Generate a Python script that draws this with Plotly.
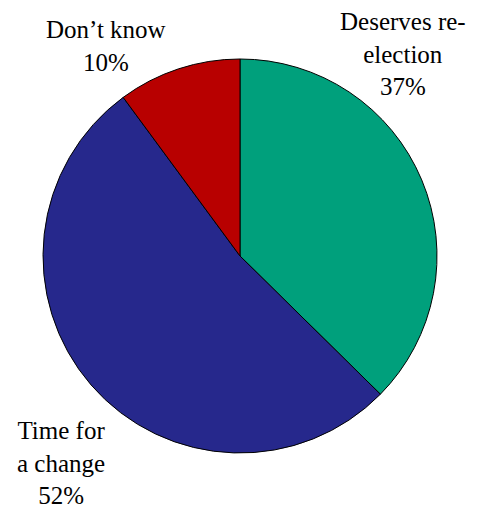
import plotly.graph_objects as go

labels = ["Deserves re-election", "Time for a change", "Don\u2019t know"]
values = [37, 52, 10]
label_text = ["Deserves re-<br>election<br>37%", "Time for<br>a change<br>52%", "Don\u2019t know<br>10%"]
colors = ["#00a07c", "#26288c", "#b80000"]

# page body has an 8px margin, so the figure is shifted by 8px
W, H, OFF = 474, 504, 8

def px(x):
    return (x - OFF) / W

def py(y):
    return 1 - (y - OFF) / H

fig = go.Figure()
fig.add_trace(go.Pie(
    labels=labels,
    values=values,
    sort=False,
    direction="clockwise",
    rotation=0,
    textinfo="none",
    marker=dict(colors=colors, line=dict(color="black", width=1)),
    domain=dict(x=[px(43), px(437)], y=[py(453), py(59)]),
    showlegend=False,
))

# auto y-anchoring: labels near the top anchor at their top, near the bottom at their bottom
label_pos = [(403, 6), (61, 511), (106, 14)]
for txt, (x, y) in zip(label_text, label_pos):
    fig.add_annotation(
        x=px(x), y=py(y), xref="paper", yref="paper", text=txt, showarrow=False,
        xanchor="center",
        font=dict(family="Liberation Serif", size=25, color="black"),
    )

fig.update_layout(width=W, height=H, margin=dict(l=0, r=0, t=0, b=0))
fig.write_html("out.html")
